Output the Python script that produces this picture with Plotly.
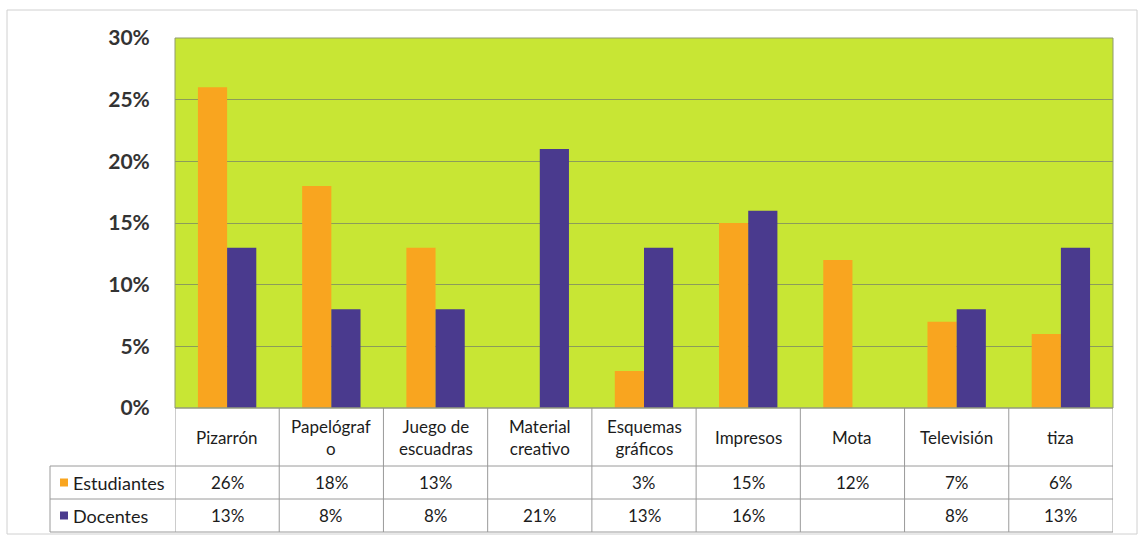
import plotly.graph_objects as go

# Data
categories = ["Pizarrón", "Papelógraf<br>o", "Juego de<br>escuadras", "Material<br>creativo",
              "Esquemas<br>gráficos", "Impresos", "Mota", "Televisión", "tiza"]
estudiantes = [0.26, 0.18, 0.13, None, 0.03, 0.15, 0.12, 0.07, 0.06]
docentes = [0.13, 0.08, 0.08, 0.21, 0.13, 0.16, None, 0.08, 0.13]
series_names = ["Estudiantes", "Docentes"]
y_ticks = [0, 0.05, 0.10, 0.15, 0.20, 0.25, 0.30]

ORANGE = "#f9a51f"
PURPLE = "#4a3a8e"
PLOT_BG = "#c8e634"
GRID = "#8c9c5a"
TABLE_LINE = "#9a9a9a"
TEXT = "#1c1c1c"
FONT = "Lato"

W, H = 1139, 536
L, R, T, B = 175, 1113, 38, 408   # plot area in pixels
PW, PH = R - L, B - T


def px_x(px):
    return (px - L) / PW


def px_y(py):
    return (B - py) / PH


x_idx = list(range(len(categories)))

fig = go.Figure()
fig.add_trace(go.Bar(x=x_idx, y=estudiantes, name=series_names[0], marker_color=ORANGE,
                     marker_line_width=0))
fig.add_trace(go.Bar(x=x_idx, y=docentes, name=series_names[1], marker_color=PURPLE,
                     marker_line_width=0))

shapes = []
annotations = []

# table row boundaries (pixels)
row_top, row_head, row_est, row_doc = B, 466, 499, 532
label_left = 50

line = dict(color=TABLE_LINE, width=1)

# horizontal lines of the data table
shapes.append(dict(type="line", xref="paper", yref="paper", x0=0, x1=1,
                   y0=px_y(row_top), y1=px_y(row_top), line=line))
for yy in (row_head, row_est, row_doc):
    shapes.append(dict(type="line", xref="paper", yref="paper", x0=px_x(label_left), x1=1,
                       y0=px_y(yy), y1=px_y(yy), line=line))

# vertical lines of the data table
shapes.append(dict(type="line", xref="paper", yref="paper", x0=px_x(label_left), x1=px_x(label_left),
                   y0=px_y(row_head), y1=px_y(row_doc), line=line))
for i in range(len(categories) + 1):
    xb = i - 0.5
    shapes.append(dict(type="line", xref="x", yref="paper", x0=xb, x1=xb,
                       y0=px_y(row_top), y1=px_y(row_doc), line=line))

# outer chart frame
shapes.append(dict(type="rect", xref="paper", yref="paper", x0=px_x(7), x1=px_x(1137),
                   y0=px_y(534), y1=px_y(10), line=dict(color="#d0d0d0", width=1), layer="below"))

# plot area frame
shapes.append(dict(type="rect", xref="paper", yref="paper", x0=0, x1=1, y0=0, y1=1,
                   line=dict(color="#8f9a70", width=1)))

# header row: category names
for i, cat in enumerate(categories):
    annotations.append(dict(x=i, y=px_y((row_top + row_head) / 2), xref="x", yref="paper",
                            text=cat, showarrow=False, font=dict(family=FONT, size=17, color=TEXT),
                            xanchor="center", yanchor="middle"))

# value rows
rows = [(estudiantes, row_head, row_est, ORANGE, series_names[0]),
        (docentes, row_est, row_doc, PURPLE, series_names[1])]
for vals, y0, y1, color, name in rows:
    yc = (y0 + y1) / 2
    for i, v in enumerate(vals):
        if v is None:
            continue
        annotations.append(dict(x=i, y=px_y(yc), xref="x", yref="paper", text=f"{v:.0%}",
                                showarrow=False, font=dict(family=FONT, size=17, color=TEXT),
                                xanchor="center", yanchor="middle"))
    # legend key
    shapes.append(dict(type="rect", xref="paper", yref="paper", x0=px_x(60), x1=px_x(68),
                       y0=px_y(yc + 4), y1=px_y(yc - 4), fillcolor=color, line_width=0))
    annotations.append(dict(x=px_x(71), y=px_y(yc), xref="paper", yref="paper", text=name,
                            showarrow=False, font=dict(family=FONT, size=18, color=TEXT),
                            xanchor="left", yanchor="middle"))

fig.update_layout(
    width=W, height=H,
    margin=dict(l=L, r=W - R, t=T, b=H - B),
    paper_bgcolor="white",
    plot_bgcolor=PLOT_BG,
    barmode="group",
    bargap=0.44,
    bargroupgap=0,
    showlegend=False,
    shapes=shapes,
    annotations=annotations,
    xaxis=dict(range=[-0.5, len(categories) - 0.5], showticklabels=False, showgrid=False,
               zeroline=False, fixedrange=True),
    yaxis=dict(range=[0, 0.30], tickvals=y_ticks, tickformat=".0%", showgrid=True,
               gridcolor=GRID, gridwidth=1, zeroline=False, ticks="outside", ticklen=20,
               tickcolor="rgba(0,0,0,0)",
               tickfont=dict(family=FONT, size=21, color="#333333", weight="bold")),
)

fig.write_html("out.html")
